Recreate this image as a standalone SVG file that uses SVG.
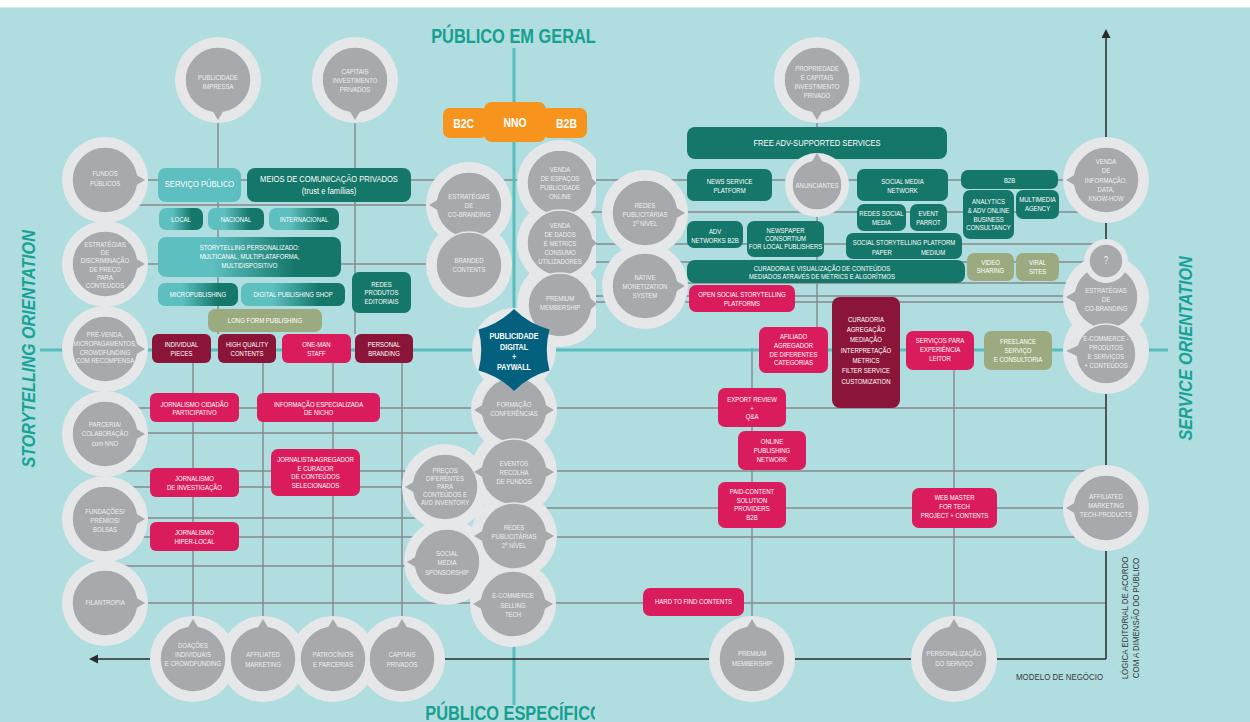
<svg xmlns="http://www.w3.org/2000/svg" width="1250" height="722" viewBox="0 0 1250 722">
<defs>
<style>
.ln{stroke:#86898b;stroke-width:1.4;fill:none}
.ax{stroke:#58bdbd;stroke-width:3;fill:none}
.bk{stroke:#2b2b2b;stroke-width:1.5;fill:none}
.rim{fill:#e6e7e8}
.in{fill:#a7a9ac;stroke:#e6e7e8;stroke-width:1.5}
.pt{fill:#a7a9ac}
.dk{fill:#14776a}.lt{fill:#5dbfc0}.gr{fill:url(#gt)}.cr{fill:#da1c5c}.bu{fill:#8b1538}.ol{fill:#9cab7f}.or{fill:#f7941d}.st{fill:#03617f}
.t{font-family:"Liberation Sans",Arial,sans-serif;font-size:7.5px;fill:#fff;text-anchor:middle;transform-box:fill-box;transform-origin:center;transform:scaleX(.8)}
.c{fill:#efeff0}
.b{font-size:9.5px}
.o{font-size:13px;font-weight:bold}
.sd{font-size:9px;font-weight:bold}
.q{font-size:10px}
.ttl{font-size:20px;font-weight:bold;fill:#16a08f;transform:scaleX(.82)}
.ori{font-size:19px;font-weight:bold;font-style:italic;fill:#17a396;transform:scaleX(.85)}
.m{font-size:9px;fill:#3a3a3a;transform:scaleX(.88)}
</style>
<linearGradient id="gt" x1="0" y1="0" x2="1" y2="0"><stop offset=".3" stop-color="#5dbfc0"/><stop offset=".75" stop-color="#14776a"/></linearGradient>
<clipPath id="cv"><rect x="0" y="0" width="596" height="722"/></clipPath>
<clipPath id="cb"><rect x="0" y="690" width="595" height="32"/></clipPath>
<marker id="ar" markerUnits="userSpaceOnUse" markerWidth="10" markerHeight="10" refX="0" refY="4.5" orient="auto"><path d="M0,0 L9,4.5 L0,9 Z" fill="#2b2b2b"/></marker>
</defs>
<rect width="1250" height="722" fill="#ffffff"/>
<rect y="7.5" width="1250" height="714.5" fill="#afdde0"/>

<g id="connectors">
<path class="ln" d="M105,180H1106 M105,205H469 M560,212H1106 M560,244H1106 M560,262H1106 M105,264H469 M645,283H1106 M560,296H1106 M560,302H1106 M105,408H1106 M105,433H514 M105,471H1106 M105,487H445 M514,508H1106 M105,518H445 M105,537H1106 M105,566H447 M105,603H1106"/>
<path class="ln" d="M218,80V334 M355,80V334 M193,349V659 M263,349V659 M333,349V659 M402,349V659 M817,80V327 M752,348V659 M954,350V659"/>
<path class="ax" d="M40,350H1168 M514,48V705"/>
<line class="bk" x1="1106" y1="659" x2="1106" y2="38" marker-end="url(#ar)"/>
<line class="bk" x1="1106" y1="659" x2="98" y2="659" marker-end="url(#ar)"/>
</g>

<g id="circle-rims">
<circle class="rim" cx="105" cy="180" r="43"/><circle class="rim" cx="105" cy="264" r="43"/><circle class="rim" cx="105" cy="349" r="43"/><circle class="rim" cx="105" cy="434" r="43"/><circle class="rim" cx="105" cy="519" r="43"/><circle class="rim" cx="105" cy="603" r="43"/>
<circle class="rim" cx="193" cy="659" r="43"/><circle class="rim" cx="263" cy="659" r="43"/><circle class="rim" cx="333" cy="659" r="43"/><circle class="rim" cx="402" cy="659" r="43"/>
<circle class="rim" cx="218" cy="80" r="43"/><circle class="rim" cx="355" cy="80" r="43"/><circle class="rim" cx="817" cy="80" r="43"/>
<circle class="rim" cx="469" cy="205" r="43"/><circle class="rim" cx="469" cy="265" r="43"/>
<g clip-path="url(#cv)"><circle class="rim" cx="560" cy="183" r="43"/><circle class="rim" cx="560" cy="243" r="43"/><circle class="rim" cx="560" cy="304" r="43"/></g>
<circle class="rim" cx="645" cy="213" r="43"/><circle class="rim" cx="645" cy="286" r="43"/>
<circle class="rim" cx="445" cy="487" r="43"/><circle class="rim" cx="447" cy="562" r="43"/>
<circle class="rim" cx="514" cy="350" r="42"/><circle class="rim" cx="514" cy="410" r="43"/><circle class="rim" cx="514" cy="472" r="43"/><circle class="rim" cx="514" cy="536" r="43"/><circle class="rim" cx="513" cy="604" r="43"/>
<circle class="rim" cx="1106" cy="180" r="43"/><circle class="rim" cx="1106" cy="298" r="43"/><circle class="rim" cx="1106" cy="351" r="43"/><circle class="rim" cx="1106" cy="508" r="43"/>
<circle class="rim" cx="752" cy="659" r="43"/><circle class="rim" cx="954" cy="659" r="43"/>
</g>

<g id="fundos-publicos"><circle class="in" cx="105" cy="180" r="33"/><path class="pt" d="M135,174L145,180L135,186Z"/><text class="t c"><tspan x="105" y="176">FUNDOS</tspan><tspan x="105" y="186">PÚBLICOS</tspan></text></g>
<g id="estrategias-discriminacao"><circle class="in" cx="105" cy="264" r="33"/><path class="pt" d="M135,258L145,264L135,270Z"/><text class="t c"><tspan x="105" y="247">ESTRATÉGIAS</tspan><tspan x="105" y="255">DE</tspan><tspan x="105" y="263">DISCRIMINAÇÃO</tspan><tspan x="105" y="271.7">DE PREÇO</tspan><tspan x="105" y="279.7">PARA</tspan><tspan x="105" y="288">CONTEÚDOS</tspan></text></g>
<g id="pre-venda"><circle class="in" cx="105" cy="349" r="33"/><path class="pt" d="M135,343L145,349L135,355Z"/><text class="t c"><tspan x="105" y="337">PRÉ-VENDA,</tspan><tspan x="105" y="346">MICROPAGAMENTOS,</tspan><tspan x="105" y="355">CROWDFUNDING</tspan><tspan x="105" y="363.4">COM RECOMPENSA</tspan></text></g>
<g id="parceria"><circle class="in" cx="105" cy="434" r="33"/><path class="pt" d="M135,428L145,434L135,440Z"/><text class="t c"><tspan x="105" y="427">PARCERIA/</tspan><tspan x="105" y="436">COLABORAÇÃO</tspan><tspan x="105" y="446">com NNO</tspan></text></g>
<g id="fundacoes"><circle class="in" cx="105" cy="519" r="33"/><path class="pt" d="M135,513L145,519L135,525Z"/><text class="t c"><tspan x="105" y="514.4">FUNDAÇÕES/</tspan><tspan x="105" y="523.4">PRÉMIOS/</tspan><tspan x="105" y="532.4">BOLSAS</tspan></text></g>
<g id="filantropia"><circle class="in" cx="105" cy="603" r="33"/><path class="pt" d="M135,597L145,603L135,609Z"/><text class="t c"><tspan x="105" y="605.4">FILANTROPIA</tspan></text></g>

<g id="doacoes"><circle class="in" cx="193" cy="659" r="33"/><path class="pt" d="M187,629L193,619L199,629Z"/><text class="t c"><tspan x="193" y="648.4">DOAÇÕES</tspan><tspan x="193" y="657.4">INDIVIDUAIS</tspan><tspan x="193" y="666.4">E CROWDFUNDING</tspan></text></g>
<g id="affiliated-marketing"><circle class="in" cx="263" cy="659" r="33"/><path class="pt" d="M257,629L263,619L269,629Z"/><text class="t c"><tspan x="263" y="657.4">AFFILIATED</tspan><tspan x="263" y="667">MARKETING</tspan></text></g>
<g id="patrocinios"><circle class="in" cx="333" cy="659" r="33"/><path class="pt" d="M327,629L333,619L339,629Z"/><text class="t c"><tspan x="333" y="657.4">PATROCÍNIOS</tspan><tspan x="333" y="667">E PARCERIAS</tspan></text></g>
<g id="capitais-privados"><circle class="in" cx="402" cy="659" r="33"/><path class="pt" d="M396,629L402,619L408,629Z"/><text class="t c"><tspan x="402" y="657.4">CAPITAIS</tspan><tspan x="402" y="667">PRIVADOS</tspan></text></g>

<g id="publicidade-impressa"><circle class="in" cx="218" cy="80" r="33"/><path class="pt" d="M212,110L218,120L224,110Z"/><text class="t c"><tspan x="218" y="79.7">PUBLICIDADE</tspan><tspan x="218" y="88.7">IMPRESSA</tspan></text></g>
<g id="capitais-investimento"><circle class="in" cx="355" cy="80" r="33"/><path class="pt" d="M349,110L355,120L361,110Z"/><text class="t c"><tspan x="355" y="73.7">CAPITAIS</tspan><tspan x="355" y="83">INVESTIMENTO</tspan><tspan x="355" y="92.4">PRIVADOS</tspan></text></g>
<g id="propriedade"><circle class="in" cx="817" cy="80" r="33"/><path class="pt" d="M811,110L817,120L823,110Z"/><text class="t c"><tspan x="817" y="70.7">PROPRIEDADE</tspan><tspan x="817" y="79.7">E CAPITAIS</tspan><tspan x="817" y="88.7">INVESTIMENTO</tspan><tspan x="817" y="97.7">PRIVADO</tspan></text></g>

<g id="co-branding-centro"><circle class="in" cx="469" cy="205" r="33"/><path class="pt" d="M439,199L429,205L439,211Z"/><text class="t c"><tspan x="469" y="198.7">ESTRATÉGIAS</tspan><tspan x="469" y="208">DE</tspan><tspan x="469" y="217">CO-BRANDING</tspan></text></g>
<g id="branded-contents"><circle class="in" cx="469" cy="265" r="33"/><text class="t c"><tspan x="469" y="262.7">BRANDED</tspan><tspan x="469" y="272">CONTENTS</tspan></text></g>

<g clip-path="url(#cv)">
<g id="venda-espacos"><circle class="in" cx="560" cy="183" r="33"/><path class="pt" d="M590,177L597,183L590,189Z"/><text class="t c"><tspan x="560" y="172">VENDA</tspan><tspan x="560" y="181">DE ESPAÇOS</tspan><tspan x="560" y="190">PUBLICIDADE</tspan><tspan x="560" y="199">ONLINE</tspan></text></g>
<g id="venda-dados"><circle class="in" cx="560" cy="243" r="33"/><path class="pt" d="M590,237L597,243L590,249Z"/><text class="t c"><tspan x="560" y="228.4">VENDA</tspan><tspan x="560" y="237">DE DADOS</tspan><tspan x="560" y="246">E METRICS</tspan><tspan x="560" y="255">CONSUMO</tspan><tspan x="560" y="264">UTILIZADORES</tspan></text></g>
<g id="premium-centro"><circle class="in" cx="560" cy="305" r="32"/><path class="pt" d="M590,298L597,304L590,310Z"/><text class="t c"><tspan x="560" y="301">PREMIUM</tspan><tspan x="560" y="310">MEMBERSHIP</tspan></text></g>
</g>

<g id="redes-1"><circle class="in" cx="645" cy="213" r="33"/><path class="pt" d="M675,207L685,213L675,219Z"/><text class="t c"><tspan x="645" y="208">REDES</tspan><tspan x="645" y="217">PUBLICITÁRIAS</tspan><tspan x="645" y="226">1º NÍVEL</tspan></text></g>
<g id="native"><circle class="in" cx="645" cy="286" r="33"/><path class="pt" d="M675,280L685,286L675,292Z"/><text class="t c"><tspan x="645" y="280">NATIVE</tspan><tspan x="645" y="289">MONETIZATION</tspan><tspan x="645" y="298">SYSTEM</tspan></text></g>

<g id="precos"><circle class="in" cx="445" cy="487" r="33"/><path class="pt" d="M415,481L405,487L415,493Z"/><text class="t c"><tspan x="445" y="472.7">PREÇOS</tspan><tspan x="445" y="481.4">DIFERENTES</tspan><tspan x="445" y="489.4">PARA</tspan><tspan x="445" y="497.4">CONTEÚDOS E</tspan><tspan x="445" y="505.4">AVD INVENTORY</tspan></text></g>
<g id="social-sponsorship"><circle class="in" cx="447" cy="562" r="33"/><path class="pt" d="M417,556L407,562L417,568Z"/><text class="t c"><tspan x="447" y="556">SOCIAL</tspan><tspan x="447" y="565">MEDIA</tspan><tspan x="447" y="575">SPONSORSHIP</tspan></text></g>

<g id="formacao"><circle class="in" cx="514" cy="410" r="33"/><path class="pt" d="M484,404L474,410L484,416Z M544,404L554,410L544,416Z"/><text class="t c"><tspan x="514" y="407">FORMAÇÃO</tspan><tspan x="514" y="416">CONFERÊNCIAS</tspan></text></g>
<g id="eventos"><circle class="in" cx="514" cy="472" r="33"/><path class="pt" d="M484,466L474,472L484,478Z M544,466L554,472L544,478Z"/><text class="t c"><tspan x="514" y="466">EVENTOS</tspan><tspan x="514" y="475">RECOLHA</tspan><tspan x="514" y="484">DE FUNDOS</tspan></text></g>
<g id="redes-2"><circle class="in" cx="514" cy="536" r="33"/><path class="pt" d="M484,530L474,536L484,542Z M544,530L554,536L544,542Z"/><text class="t c"><tspan x="514" y="529.7">REDES</tspan><tspan x="514" y="538.7">PUBLICITÁRIAS</tspan><tspan x="514" y="547.7">2º NÍVEL</tspan></text></g>
<g id="ecommerce-tech"><circle class="in" cx="513" cy="604" r="33"/><path class="pt" d="M483,598L473,604L483,610Z M543,598L553,604L543,610Z"/><text class="t c"><tspan x="513" y="598">E-COMMERCE</tspan><tspan x="513" y="608">SELLING</tspan><tspan x="513" y="617">TECH</tspan></text></g>
<g id="publicidade-digital"><path class="st" d="M514,309 Q529,324 549.5,329.5 Q544,350 549.5,370.5 Q529,376 514,391 Q499,376 478.5,370.5 Q484,350 478.5,329.5 Q499,324 514,309 Z"/><text class="t sd"><tspan x="514" y="339.2">PUBLICIDADE</tspan><tspan x="514" y="350.2">DIGITAL</tspan><tspan x="514" y="360.5">+</tspan><tspan x="514" y="370.2">PAYWALL</tspan></text></g>

<g id="venda-informacao"><circle class="in" cx="1106" cy="180" r="33"/><path class="pt" d="M1076,174L1066,180L1076,186Z"/><text class="t c"><tspan x="1106" y="164.4">VENDA</tspan><tspan x="1106" y="173.4">DE</tspan><tspan x="1106" y="182.7">INFORMAÇÃO,</tspan><tspan x="1106" y="191.7">DATA,</tspan><tspan x="1106" y="201">KNOW-HOW</tspan></text></g>
<g id="co-branding-direita"><circle class="in" cx="1106" cy="297" r="32"/><path class="pt" d="M1076,291L1066,297L1076,303Z"/><text class="t c"><tspan x="1106" y="293.4">ESTRATÉGIAS</tspan><tspan x="1106" y="302.4">DE</tspan><tspan x="1106" y="311">CO-BRANDING</tspan></text></g>
<g id="ecommerce-produtos"><circle class="in" cx="1106" cy="354" r="30"/><path class="pt" d="M1079,345L1066,351L1079,357Z"/><text class="t c"><tspan x="1106" y="341.4">E-COMMERCE -</tspan><tspan x="1106" y="350">PRODUTOS</tspan><tspan x="1106" y="359">E SERVIÇOS</tspan><tspan x="1106" y="368">+ CONTEÚDOS</tspan></text></g>
<g id="interrogacao"><circle class="rim" cx="1106" cy="261" r="22"/><circle class="in" cx="1106" cy="261" r="17"/><text class="t c q"><tspan x="1106" y="264.5">?</tspan></text></g>
<g id="affiliated-tech"><circle class="in" cx="1106" cy="508" r="33"/><path class="pt" d="M1076,502L1066,508L1076,514Z"/><text class="t c"><tspan x="1106" y="499">AFFILIATED</tspan><tspan x="1106" y="508">MARKETING</tspan><tspan x="1106" y="517">TECH-PRODUCTS</tspan></text></g>
<g id="premium-baixo"><circle class="in" cx="752" cy="659" r="33"/><path class="pt" d="M746,629L752,619L758,629Z"/><text class="t c"><tspan x="752" y="656">PREMIUM</tspan><tspan x="752" y="666">MEMBERSHIP</tspan></text></g>
<g id="personalizacao"><circle class="in" cx="954" cy="659" r="33"/><path class="pt" d="M948,629L954,619L960,629Z"/><text class="t c"><tspan x="954" y="656">PERSONALIZAÇÃO</tspan><tspan x="954" y="666">DO SERVIÇO</tspan></text></g>

<g id="servico-publico"><rect class="lt" x="158" y="168" width="83" height="34" rx="8"/><text class="t b"><tspan x="199.5" y="187">SERVIÇO PÚBLICO</tspan></text></g>
<g id="meios-comunicacao"><rect class="dk" x="247" y="168" width="164" height="34" rx="8"/><text class="t b"><tspan x="329" y="182.5">MEIOS DE COMUNICAÇÃO PRIVADOS</tspan><tspan x="329" y="194">(trust e famílias)</tspan></text></g>
<g id="local"><rect class="gr" x="159" y="208" width="44" height="22" rx="7"/><text class="t"><tspan x="181" y="221.7">LOCAL</tspan></text></g>
<g id="nacional"><rect class="gr" x="208" y="208" width="56" height="22" rx="7"/><text class="t"><tspan x="236" y="221.7">NACIONAL</tspan></text></g>
<g id="internacional"><rect class="gr" x="269" y="208" width="70" height="22" rx="7"/><text class="t"><tspan x="304" y="221.7">INTERNACIONAL</tspan></text></g>
<g id="storytelling-personalizado"><rect class="gr" x="158" y="237" width="183" height="40" rx="8"/><text class="t"><tspan x="249.5" y="250">STORYTELLING PERSONALIZADO:</tspan><tspan x="249.5" y="259">MULTICANAL, MULTIPLATAFORMA,</tspan><tspan x="249.5" y="268">MULTIDISPOSITIVO</tspan></text></g>
<g id="micropublishing"><rect class="gr" x="158" y="283" width="80" height="23" rx="7"/><text class="t"><tspan x="198" y="297.2">MICROPUBLISHING</tspan></text></g>
<g id="digital-publishing-shop"><rect class="gr" x="241" y="283" width="104" height="23" rx="7"/><text class="t"><tspan x="293" y="297.2">DIGITAL PUBLISHING SHOP</tspan></text></g>
<g id="redes-produtos"><rect class="dk" x="352" y="272" width="59" height="41" rx="7"/><text class="t"><tspan x="381.5" y="287">REDES</tspan><tspan x="381.5" y="295.4">PRODUTOS</tspan><tspan x="381.5" y="304">EDITORIAIS</tspan></text></g>
<g id="long-form"><rect class="ol" x="208" y="309" width="114" height="23" rx="7"/><text class="t"><tspan x="265" y="323.2">LONG FORM PUBLISHING</tspan></text></g>
<g id="individual-pieces"><rect class="bu" x="152" y="334" width="59" height="29" rx="6"/><text class="t"><tspan x="181.5" y="347">INDIVIDUAL</tspan><tspan x="181.5" y="356">PIECES</tspan></text></g>
<g id="high-quality"><rect class="bu" x="218" y="334" width="58" height="29" rx="6"/><text class="t"><tspan x="247" y="347">HIGH QUALITY</tspan><tspan x="247" y="356">CONTENTS</tspan></text></g>
<g id="one-man"><rect class="cr" x="282" y="334" width="69" height="29" rx="6"/><text class="t"><tspan x="316.5" y="347">ONE-MAN</tspan><tspan x="316.5" y="356">STAFF</tspan></text></g>
<g id="personal-branding"><rect class="bu" x="355" y="334" width="58" height="29" rx="6"/><text class="t"><tspan x="384" y="347">PERSONAL</tspan><tspan x="384" y="356">BRANDING</tspan></text></g>
<g id="jornalismo-cidadao"><rect class="cr" x="150" y="393" width="89" height="29" rx="6"/><text class="t"><tspan x="194.5" y="407">JORNALISMO CIDADÃO</tspan><tspan x="194.5" y="415">PARTICIPATIVO</tspan></text></g>
<g id="informacao-nicho"><rect class="cr" x="257" y="393" width="123" height="29" rx="6"/><text class="t"><tspan x="318.5" y="407">INFORMAÇÃO ESPECIALIZADA</tspan><tspan x="318.5" y="415">DE NICHO</tspan></text></g>
<g id="jornalista-agregador"><rect class="cr" x="271" y="449" width="89" height="47" rx="7"/><text class="t"><tspan x="315.5" y="462">JORNALISTA AGREGADOR</tspan><tspan x="315.5" y="471.4">E CURADOR</tspan><tspan x="315.5" y="479.4">DE CONTEÚDOS</tspan><tspan x="315.5" y="488">SELECIONADOS</tspan></text></g>
<g id="jornalismo-investigacao"><rect class="cr" x="150" y="468" width="89" height="29" rx="6"/><text class="t"><tspan x="194.5" y="481.4">JORNALISMO</tspan><tspan x="194.5" y="490">DE INVESTIGAÇÃO</tspan></text></g>
<g id="jornalismo-hiperlocal"><rect class="cr" x="150" y="522" width="89" height="29" rx="6"/><text class="t"><tspan x="194.5" y="535.4">JORNALISMO</tspan><tspan x="194.5" y="544">HIPER-LOCAL</tspan></text></g>

<g id="b2c"><rect class="or" x="443" y="108" width="45" height="30" rx="7"/><text class="t o"><tspan x="463.5" y="127.7">B2C</tspan></text></g>
<g id="b2b"><rect class="or" x="542" y="108" width="45" height="30" rx="7"/><text class="t o"><tspan x="566.5" y="127.7">B2B</tspan></text></g>
<g id="nno"><rect class="or" x="484" y="102" width="62" height="40" rx="8"/><text class="t o"><tspan x="515" y="126.7">NNO</tspan></text></g>

<g id="free-adv"><rect class="dk" x="687" y="127" width="260" height="32" rx="8"/><text class="t b"><tspan x="817" y="146.4">FREE ADV-SUPPORTED SERVICES</tspan></text></g>
<g id="news-service"><rect class="dk" x="687" y="169" width="85" height="32" rx="7"/><text class="t"><tspan x="729.5" y="184.4">NEWS SERVICE</tspan><tspan x="729.5" y="193.4">PLATFORM</tspan></text></g>
<g id="social-media-network"><rect class="dk" x="857" y="169" width="91" height="32" rx="7"/><text class="t"><tspan x="902.5" y="184.4">SOCIAL MEDIA</tspan><tspan x="902.5" y="193.4">NETWORK</tspan></text></g>
<g id="b2b-direita"><rect class="dk" x="961" y="170" width="97" height="19" rx="7"/><text class="t"><tspan x="1009.5" y="183">B2B</tspan></text></g>
<g id="analytics"><rect class="dk" x="963" y="190" width="51" height="49" rx="7"/><text class="t"><tspan x="988.5" y="204">ANALYTICS</tspan><tspan x="988.5" y="213">&amp; ADV ONLINE</tspan><tspan x="988.5" y="222">BUSINESS</tspan><tspan x="988.5" y="230.4">CONSULTANCY</tspan></text></g>
<g id="multimedia-agency"><rect class="dk" x="1016" y="190" width="43" height="29" rx="7"/><text class="t"><tspan x="1037.5" y="202">MULTIMEDIA</tspan><tspan x="1037.5" y="211">AGENCY</tspan></text></g>
<g id="redes-social-media"><rect class="dk" x="857" y="204" width="49" height="27" rx="7"/><text class="t"><tspan x="881.5" y="216">REDES SOCIAL</tspan><tspan x="881.5" y="225">MEDIA</tspan></text></g>
<g id="event-parrot"><rect class="dk" x="910" y="204" width="37" height="27" rx="7"/><text class="t"><tspan x="928.5" y="216">EVENT</tspan><tspan x="928.5" y="225">PARROT</tspan></text></g>
<g id="social-storytelling-platform"><rect class="dk" x="846" y="233" width="116" height="26" rx="7"/><text class="t"><tspan x="904" y="244.7">SOCIAL STORYTELLING PLATFORM</tspan></text><text class="t"><tspan x="882" y="255">PAPER</tspan></text><text class="t"><tspan x="933" y="255">MEDIUM</tspan></text></g>
<g id="adv-networks"><rect class="dk" x="687" y="221" width="56" height="27" rx="7"/><text class="t"><tspan x="715" y="233.7">ADV</tspan><tspan x="715" y="242.7">NETWORKS B2B</tspan></text></g>
<g id="newspaper-consortium"><rect class="dk" x="747" y="221" width="77" height="36" rx="7"/><text class="t"><tspan x="785.5" y="232.7">NEWSPAPER</tspan><tspan x="785.5" y="241.4">CONSORTIUM</tspan><tspan x="785.5" y="249.4">FOR LOCAL PUBLISHERS</tspan></text></g>
<g id="curadoria-visualizacao"><rect class="dk" x="687" y="260" width="278" height="23" rx="8"/><text class="t"><tspan x="822" y="270.7">CURADORIA E VISUALIZAÇÃO DE CONTEÚDOS</tspan><tspan x="822" y="279.4">MEDIADOS ATRAVÉS DE METRICS E ALGORÍTMOS</tspan></text></g>
<g id="video-sharing"><rect class="ol" x="967" y="253" width="47" height="28" rx="7"/><text class="t"><tspan x="990.5" y="265">VIDEO</tspan><tspan x="990.5" y="273">SHARING</tspan></text></g>
<g id="viral-sites"><rect class="ol" x="1016" y="253" width="43" height="28" rx="7"/><text class="t"><tspan x="1037.5" y="265">VIRAL</tspan><tspan x="1037.5" y="274">SITES</tspan></text></g>
<g id="open-social"><rect class="cr" x="689" y="285" width="106" height="27" rx="7"/><text class="t"><tspan x="742" y="297">OPEN SOCIAL STORYTELLING</tspan><tspan x="742" y="306">PLATFORMS</tspan></text></g>
<g id="curadoria-agregacao"><rect class="bu" x="832" y="297" width="68" height="111" rx="8"/><text class="t"><tspan x="866" y="322">CURADORIA</tspan><tspan x="866" y="332">AGREGAÇÃO</tspan><tspan x="866" y="342">MEDIAÇÃO</tspan><tspan x="866" y="352.7">INTERPRETAÇÃO</tspan><tspan x="866" y="363">METRICS</tspan><tspan x="866" y="373.4">FILTER SERVICE</tspan><tspan x="866" y="384">CUSTOMIZATION</tspan></text></g>
<g id="afiliado-agregador"><rect class="cr" x="759" y="327" width="69" height="46" rx="7"/><text class="t"><tspan x="793.5" y="339.4">AFILIADO</tspan><tspan x="793.5" y="348">AGREGADOR</tspan><tspan x="793.5" y="357">DE DIFERENTES</tspan><tspan x="793.5" y="365.4">CATEGORIAS</tspan></text></g>
<g id="servicos-experiencia"><rect class="cr" x="906" y="331" width="68" height="39" rx="7"/><text class="t"><tspan x="940" y="343">SERVIÇOS PARA</tspan><tspan x="940" y="352">EXPERIÊNCIA</tspan><tspan x="940" y="361">LEITOR</tspan></text></g>
<g id="freelance"><rect class="ol" x="984" y="331" width="68" height="39" rx="7"/><text class="t"><tspan x="1018" y="344">FREELANCE</tspan><tspan x="1018" y="353">SERVIÇO</tspan><tspan x="1018" y="362">E CONSULTORIA</tspan></text></g>
<g id="export-review"><rect class="cr" x="718" y="388" width="68" height="39" rx="7"/><text class="t"><tspan x="752" y="402.4">EXPORT REVIEW</tspan><tspan x="752" y="411">+</tspan><tspan x="752" y="419.4">Q&amp;A</tspan></text></g>
<g id="online-publishing"><rect class="cr" x="738" y="431" width="68" height="39" rx="7"/><text class="t"><tspan x="772" y="444.4">ONLINE</tspan><tspan x="772" y="453">PUBLISHING</tspan><tspan x="772" y="462">NETWORK</tspan></text></g>
<g id="paid-content"><rect class="cr" x="718" y="482" width="68" height="46" rx="7"/><text class="t"><tspan x="752" y="494.4">PAID-CONTENT</tspan><tspan x="752" y="503">SOLUTION</tspan><tspan x="752" y="511.4">PROVIDERS</tspan><tspan x="752" y="520.4">B2B</tspan></text></g>
<g id="hard-to-find"><rect class="cr" x="643" y="588" width="101" height="28" rx="7"/><text class="t"><tspan x="693.5" y="604.4">HARD TO FIND CONTENTS</tspan></text></g>
<g id="web-master"><rect class="cr" x="912" y="488" width="85" height="40" rx="7"/><text class="t"><tspan x="954.5" y="500">WEB MASTER</tspan><tspan x="954.5" y="509">FOR TECH</tspan><tspan x="954.5" y="518">PROJECT + CONTENTS</tspan></text></g>

<g id="anunciantes"><circle class="rim" cx="817" cy="185" r="32"/><circle class="in" cx="817" cy="185" r="25"/><path class="pt" d="M811,163L817,153L823,163Z"/><text class="t c"><tspan x="817" y="187.7">ANUNCIANTES</tspan></text></g>

<g id="labels">
<text class="t ttl"><tspan x="513.5" y="43">PÚBLICO EM GERAL</tspan></text>
<g clip-path="url(#cb)"><text class="t ttl"><tspan x="514" y="720">PÚBLICO ESPECÍFICO</tspan></text></g>
<g transform="translate(35,349) rotate(-90)"><text class="t ori"><tspan x="0" y="0">STORYTELLING ORIENTATION</tspan></text></g>
<g transform="translate(1192,348.5) rotate(-90)"><text class="t ori"><tspan x="0" y="0">SERVICE ORIENTATION</tspan></text></g>
<text class="t m"><tspan x="1059.5" y="680">MODELO DE NEGÓCIO</tspan></text>
<g transform="translate(1128,618) rotate(-90)"><text class="t m"><tspan x="0" y="0">LÓGICA EDITORIAL DE ACORDO</tspan></text><text class="t m"><tspan x="0" y="11.5">COM A DIMENSÃO DO PÚBLICO</tspan></text></g>
</g>
</svg>
